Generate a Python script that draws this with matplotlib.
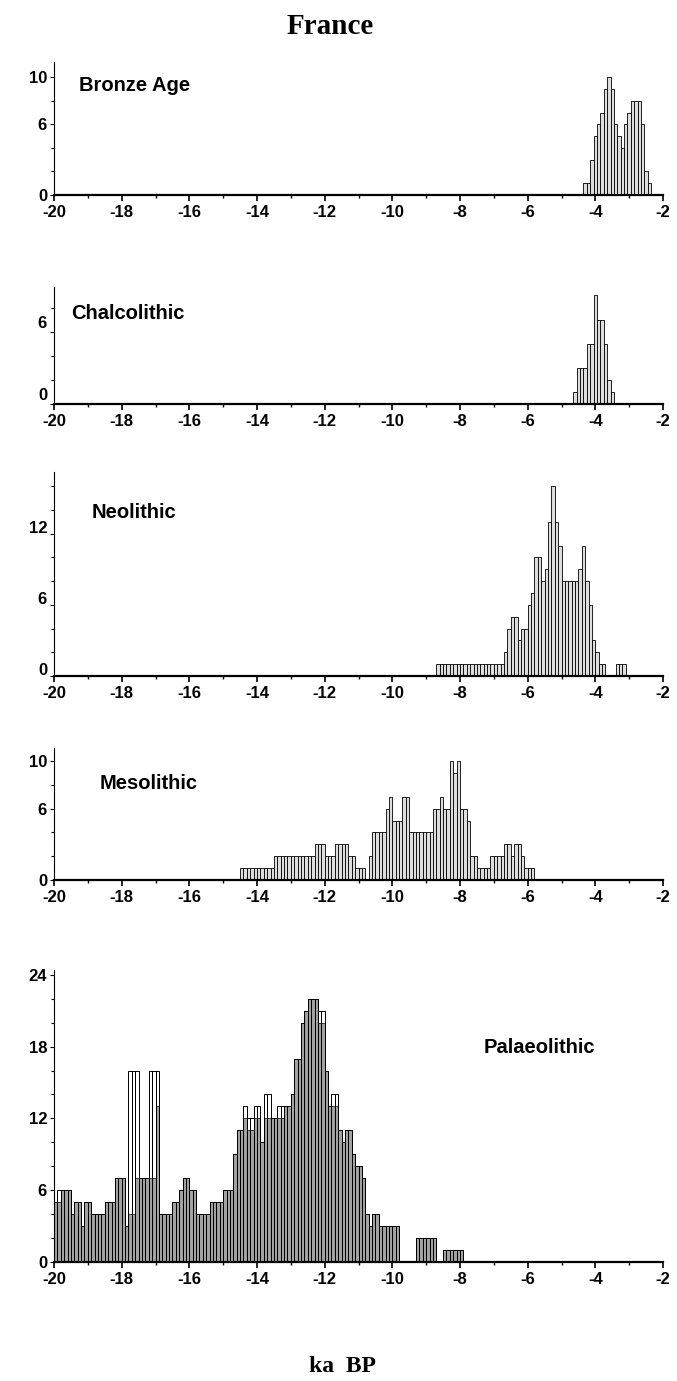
import numpy as np
import matplotlib
matplotlib.use('Agg')
import matplotlib.pyplot as plt
import matplotlib.transforms as mtransforms
from matplotlib.ticker import MultipleLocator, FixedLocator

plt.rcParams['axes.unicode_minus'] = False
plt.rcParams['font.family'] = ['Liberation Sans', 'DejaVu Sans']

# histogram bins are 100 years (0.1 ka) wide
bin_width = 0.1

bronze_start = -4.35
bronze_counts = [1, 1, 3, 5, 6, 7, 9, 10, 9, 6, 5, 4, 6, 7, 8, 8, 8, 6, 2, 1]

chalco_start = -4.65
chalco_counts = [1, 3, 3, 3, 5, 5, 9, 7, 7, 5, 2, 1]

neo_start = -8.7
neo_counts = [1, 1, 1, 1, 1, 1, 1, 1, 1, 1, 1, 1, 1, 1, 1, 1, 1, 1, 1, 1,
              2, 4, 5, 5, 3, 4, 4, 6, 7, 10, 10, 8, 9, 13, 16, 13, 11, 8,
              8, 8, 8, 8, 9, 11, 8, 6, 3, 2, 1, 1, 0, 0, 0, 1, 1, 1]

meso_start = -14.5
meso_counts = [1, 1, 1, 1, 1, 1, 1, 1, 1, 1,
               2, 2, 2, 2, 2, 2, 2, 2, 2, 2, 2, 2,
               3, 3, 3, 2, 2, 2, 3, 3, 3, 3, 2, 2, 1, 1, 1, 0, 2,
               4, 4, 4, 4, 6, 7, 5, 5, 5, 7, 7,
               4, 4, 4, 4, 4, 4, 4, 6, 6, 7, 6, 6,
               10, 9, 10, 6, 6, 5, 2, 2, 1, 1, 1, 1,
               2, 2, 2, 2, 3, 3, 2, 3, 3, 2, 1, 1, 1]

palaeo_start = -20.0
palaeo_counts = [5, 6, 6, 6, 6, 4, 5, 5, 3, 5,
                 5, 4, 4, 4, 4, 5, 5, 5, 7, 7,
                 7, 3, 16, 16, 16, 7, 7, 7, 16, 16,
                 16, 4, 4, 4, 4, 5, 5, 6, 7, 7,
                 6, 6, 4, 4, 4, 4, 5, 5, 5, 5,
                 6, 6, 6, 9, 11, 11, 13, 12, 12, 13,
                 13, 10, 14, 14, 12, 12, 13, 13, 13, 13,
                 14, 17, 17, 20, 21, 22, 22, 22, 21, 21,
                 16, 13, 14, 14, 11, 10, 11, 11, 9, 8,
                 8, 7, 4, 3, 4, 4, 3, 3, 3, 3,
                 3, 3, 0, 0, 0, 0, 0, 2, 2, 2,
                 2, 2, 2, 0, 0, 1, 1, 1, 1, 1, 1]
# shaded part of the palaeolithic bars
palaeo_shade = [5, 5, 6, 6, 6, 4, 5, 5, 3, 5,
                5, 4, 4, 4, 4, 5, 5, 5, 7, 7,
                7, 3, 4, 4, 7, 7, 7, 7, 7, 7,
                13, 4, 4, 4, 4, 5, 5, 6, 7, 7,
                6, 6, 4, 4, 4, 4, 5, 5, 5, 5,
                6, 6, 6, 9, 11, 11, 12, 11, 11, 12,
                12, 10, 12, 12, 12, 12, 12, 12, 13, 13,
                14, 17, 17, 20, 21, 22, 22, 22, 20, 20,
                16, 13, 13, 13, 11, 10, 11, 11, 9, 8,
                8, 7, 4, 3, 4, 4, 3, 3, 3, 3,
                3, 3, 0, 0, 0, 0, 0, 2, 2, 2,
                2, 2, 2, 0, 0, 1, 1, 1, 1, 1, 1]

periods = ['Bronze Age', 'Chalcolithic', 'Neolithic', 'Mesolithic', 'Palaeolithic']
x_ticks = [-20, -18, -16, -14, -12, -10, -8, -6, -4, -2]
y_labels = [[0, 6, 10], [0, 6], [0, 6, 12], [0, 6, 10], [0, 6, 12, 18, 24]]
y_tops = [11.3, 9.7, 17.2, 11.1, 24.4]

W, H = 677, 1381
fig = plt.figure(figsize=(W / 100, H / 100), dpi=100)

# (zero line, top of axis) in pixels from the top
rows = [(195, 62), (404, 287), (676, 472), (880, 748), (1262, 970)]
x_left, x_right = 54, 663
# the scanned y labels sit a little above their ticks in some panels (pixels)
label_lift = [0, 10, 7, 0, 0]
# where the period name sits (x in ka, y in counts)
name_pos = [(-19.25, 9.3), (-19.5, 7.5), (-18.9, 13.8), (-18.65, 8.1), (-7.3, 17.9)]

data = [(bronze_start, bronze_counts), (chalco_start, chalco_counts),
        (neo_start, neo_counts), (meso_start, meso_counts),
        (palaeo_start, palaeo_counts)]

for i, ((zero, top), (start, counts)) in enumerate(zip(rows, data)):
    ax = fig.add_axes([x_left / W, 1 - zero / H, (x_right - x_left) / W, (zero - top) / H])
    edges = start + bin_width * np.arange(len(counts))
    if i == 4:
        ax.bar(edges, palaeo_shade, width=bin_width, align='edge',
               color='#a2a2a2', edgecolor='black', linewidth=0.5)
        ax.bar(edges, counts, width=bin_width, align='edge', fill=False,
               edgecolor='black', linewidth=0.7)
    else:
        ax.bar(edges, counts, width=bin_width, align='edge',
               color='#dedede', edgecolor='black', linewidth=0.6)

    ax.set_xlim(-20, -2)
    ax.set_ylim(0, y_tops[i])
    ax.set_xticks(x_ticks)
    ax.set_xticklabels([str(v) for v in x_ticks])
    ax.xaxis.set_minor_locator(MultipleLocator(1))
    ax.yaxis.set_major_locator(FixedLocator(y_labels[i]))
    ax.set_yticklabels([str(v) for v in y_labels[i]])
    ax.yaxis.set_minor_locator(MultipleLocator(2))

    for s in ['top', 'right']:
        ax.spines[s].set_visible(False)
    ax.spines['bottom'].set_linewidth(1.6)
    ax.spines['left'].set_linewidth(0.8)
    ax.tick_params(axis='x', which='major', length=4, width=1.2, pad=3)
    ax.tick_params(axis='x', which='minor', length=2.5, width=1)
    ax.tick_params(axis='y', which='major', length=3, width=0.8, pad=2)
    ax.tick_params(axis='y', which='minor', length=2.5, width=0.8)
    lift = mtransforms.ScaledTranslation(0, label_lift[i] / 100, fig.dpi_scale_trans)
    for lab in ax.get_yticklabels():
        lab.set_transform(lab.get_transform() + lift)
    for lab in ax.get_xticklabels() + ax.get_yticklabels():
        lab.set_fontsize(12)
        lab.set_fontweight('bold')
    ax.patch.set_alpha(0)

    nx, ny = name_pos[i]
    ax.text(nx, ny, periods[i], fontsize=14.5, fontweight='bold', ha='left', va='center')

fig.text(330 / W, 1 - 27 / H, 'France', family='Liberation Serif', fontsize=21,
         fontweight='bold', ha='center', va='center')
fig.text(342 / W, 1 - 1366 / H, 'ka  BP', family='Liberation Serif', fontsize=17,
         fontweight='bold', ha='center', va='center')

fig.savefig('out.png', dpi=100, facecolor='white')
